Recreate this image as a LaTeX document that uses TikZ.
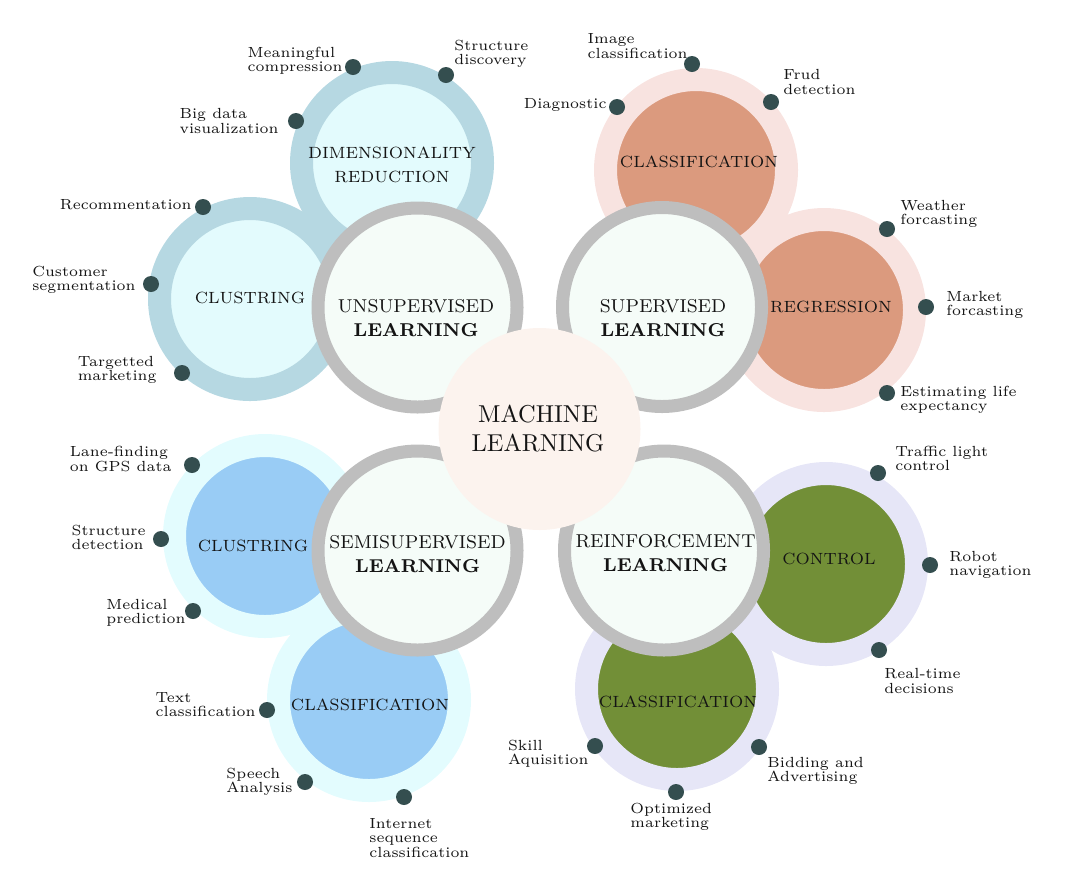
\documentclass[tikz,border=0pt]{standalone}
\newcommand\pu{0.42992pt}
\definecolor{corefill}{HTML}{FCF3EE}
\definecolor{ringgray}{HTML}{BEBEBE}
\definecolor{mint}{HTML}{F5FCF8}
\definecolor{bluering}{HTML}{B6D8E2}
\definecolor{bluein}{HTML}{E3FBFD}
\definecolor{pinkring}{HTML}{F8E3E0}
\definecolor{salmon}{HTML}{DB9A7E}
\definecolor{cyanring}{HTML}{E3FCFE}
\definecolor{skyblue}{HTML}{99CCF5}
\definecolor{lavring}{HTML}{E6E6F7}
\definecolor{olive}{HTML}{728F37}
\definecolor{dotc}{HTML}{344E4F}
\definecolor{txt}{HTML}{141414}
\tikzset{
  subcirc/.style 2 args={circle, inner sep=0pt, draw=#1, fill=#2, line width=23*\pu, minimum size=181*\pu},
  maincirc/.style={circle, inner sep=0pt, draw=ringgray, fill=mint, line width=13*\pu, minimum size=199*\pu},
  corecirc/.style={circle, inner sep=0pt, fill=corefill, minimum size=202*\pu},
  bullet/.style={circle, inner sep=0pt, fill=dotc, minimum size=16*\pu},
  lab/.style={inner sep=0pt, align=left, text=txt, font=\fontsize{6.3}{6.1}\selectfont},
  sublab/.style={inner sep=0pt, align=center, text=txt, font=\fontsize{7}{10.3}\selectfont},
  mainlab/.style={inner sep=0pt, align=center, text=txt, font=\fontsize{8}{10}\selectfont},
  corelab/.style={inner sep=0pt, align=center, text=txt, font=\fontsize{10.5}{12.8}\selectfont}
}
\begin{document}
\begin{tikzpicture}[x=\pu, y=-\pu]
\useasboundingbox (0,0) rectangle (1092,872);
% sub circles
\node[subcirc={bluering}{bluein}] (dimc) at (392,163) {};
\node[subcirc={bluering}{bluein}] (cluc) at (250,299) {};
\node[subcirc={pinkring}{salmon}] (clac) at (696,170) {};
\node[subcirc={pinkring}{salmon}] (regc) at (824,310) {};
\node[subcirc={cyanring}{skyblue}] (scluc) at (265,536) {};
\node[subcirc={cyanring}{skyblue}] (sclac) at (369,700) {};
\node[subcirc={lavring}{olive}] (conc) at (826,564) {};
\node[subcirc={lavring}{olive}] (rclac) at (677,689) {};
% main circles
\node[maincirc] (unsup) at (417.5,307.5) {};
\node[maincirc] (sup) at (662,307) {};
\node[maincirc] (semi) at (417.5,550.5) {};
\node[maincirc] (reinf) at (664,550.5) {};
\node[corecirc] (ml) at (539.5,429) {};
% labels in circles
\node[corelab] (mlt) at (538,428.5) {MACHINE\\LEARNING};
\node[mainlab] (unsupt) at (416,318) {UNSUPERVISED\\\textbf{LEARNING}};
\node[mainlab] (supt) at (663,318) {SUPERVISED\\\textbf{LEARNING}};
\node[mainlab] (semit) at (417.5,554) {SEMISUPERVISED\\\textbf{LEARNING}};
\node[mainlab] (reinft) at (665.5,553) {REINFORCEMENT\\\textbf{LEARNING}};
\node[sublab] (dimt) at (392,165) {DIMENSIONALITY\\REDUCTION};
\node[sublab] (clut) at (250,298) {CLUSTRING};
\node[sublab] (clat) at (699,162) {CLASSIFICATION};
\node[sublab] (regt) at (831,307) {REGRESSION};
\node[sublab] (sclut) at (253,546) {CLUSTRING};
\node[sublab] (sclat) at (370,705) {CLASSIFICATION};
\node[sublab] (cont) at (829,559) {CONTROL};
\node[sublab] (rclat) at (678,702) {CLASSIFICATION};
% bullets
\node[bullet] (b1) at (353,67) {};
\node[bullet] (b2) at (446,75) {};
\node[bullet] (b3) at (296,121) {};
\node[bullet] (b4) at (692,64) {};
\node[bullet] (b5) at (771,102) {};
\node[bullet] (b6) at (617,107) {};
\node[bullet] (b7) at (887,229) {};
\node[bullet] (b8) at (926,307) {};
\node[bullet] (b9) at (887,393) {};
\node[bullet] (b10) at (203,207) {};
\node[bullet] (b11) at (151,284) {};
\node[bullet] (b12) at (182,373) {};
\node[bullet] (b13) at (192,465) {};
\node[bullet] (b14) at (161,539) {};
\node[bullet] (b15) at (193,611) {};
\node[bullet] (b16) at (267,710) {};
\node[bullet] (b17) at (305,782) {};
\node[bullet] (b18) at (404,797) {};
\node[bullet] (b19) at (878,473) {};
\node[bullet] (b20) at (930,565) {};
\node[bullet] (b21) at (879,650) {};
\node[bullet] (b22) at (595,746) {};
\node[bullet] (b23) at (676,792) {};
\node[bullet] (b24) at (759,747) {};
% bullet labels
\node[lab, anchor=east] (l1) at (343,61) {Meaningful\\compression};
\node[lab, anchor=west] (l2) at (454,54) {Structure\\discovery};
\node[lab, anchor=east] (l3) at (279,121) {Big data\\visualization};
\node[lab, anchor=east] (l4) at (688,46) {Image\\classification};
\node[lab, anchor=west] (l5) at (783,82) {Frud\\detection};
\node[lab, anchor=east] (l6) at (607,105) {Diagnostic};
\node[lab, anchor=west] (l7) at (900,214) {Weather\\forcasting};
\node[lab, anchor=west] (l8) at (946,305) {Market\\forcasting};
\node[lab, anchor=west] (l9) at (900,400) {Estimating life\\expectancy};
\node[lab, anchor=east] (l10) at (192,205) {Recommentation};
\node[lab, anchor=east] (l11) at (136,280) {Customer\\segmentation};
\node[lab, anchor=east] (l12) at (157,370) {Targetted\\marketing};
\node[lab, anchor=east] (l13) at (172,459) {Lane-finding\\on GPS data};
\node[lab, anchor=east] (l14) at (146,537) {Structure\\detection};
\node[lab, anchor=east] (l15) at (186,613) {Medical\\prediction};
\node[lab, anchor=east] (l16) at (256,705) {Text\\classification};
\node[lab, anchor=east] (l17) at (293,782) {Speech\\Analysis};
\node[lab, anchor=west] (l18) at (369,838) {Internet\\sequence\\classification};
\node[lab, anchor=west] (l19) at (895,458) {Traffic light\\control};
\node[lab, anchor=west] (l20) at (949,565) {Robot\\navigation};
\node[lab, anchor=west] (l21) at (884,681) {Real-time\\decisions};
\node[lab, anchor=east] (l22) at (589,754) {Skill\\Aquisition};
\node[lab, anchor=west] (l23) at (630,817) {Optimized\\marketing};
\node[lab, anchor=west] (l24) at (767,771) {Bidding and\\Advertising};
\end{tikzpicture}
\end{document}
